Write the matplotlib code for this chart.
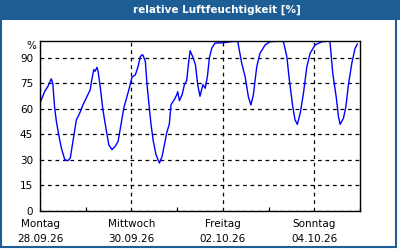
import matplotlib
matplotlib.use("Agg")
import matplotlib.pyplot as plt
from matplotlib.patches import Rectangle

# hours since Monday 28.09.26 00:00 and relative humidity in %
hours = [0.4, 2.5, 4.2, 5.9, 6.7, 7.7, 8.6, 9.8, 11.2, 13.0, 14.7, 15.9, 17.3, 19.1,
         20.9, 22.6, 24.3, 26.4, 26.9, 28.2, 28.9, 29.9, 30.5, 31.7, 32.9, 34.3, 36.1,
         37.8, 39.5, 41.0, 42.2, 44.0, 45.7, 46.9, 48.3, 50.1, 51.5, 52.7, 53.9, 55.3,
         56.2, 57.4, 58.3, 59.5, 60.9, 62.7, 64.1, 65.3, 66.5, 67.9, 68.8, 70.5, 71.8,
         72.3, 73.2, 74.6, 75.8, 77.0, 78.1, 78.8, 80.1, 81.6, 82.8, 84.0, 85.5, 86.1,
         86.7, 87.9, 88.9, 90.2, 91.9, 96.3, 101.5, 103.8, 105.9, 107.7, 109.4, 110.7,
         112.0, 113.8, 115.5, 118.2, 120.8, 126.0, 127.8, 129.6, 130.9, 132.7, 133.9,
         135.1, 136.6, 138.3, 140.1, 141.8, 144.4, 148.0, 151.9, 152.3, 153.7, 155.5,
         156.7, 157.6, 159.3, 160.6, 161.9, 163.7, 165.4, 166.6]
humidity = [64.4, 70.2, 73.2, 77.6, 75, 60.4, 52.6, 44.7, 36.9, 30, 29.4, 31, 40.8, 53.5,
            57.5, 62.4, 66.3, 71.2, 75.1, 83, 82, 84.3, 82, 72.2, 60.4, 50.6, 38.8,
            35.9, 37.9, 40.8, 48.6, 60.4, 67.3, 72.2, 78.5, 80, 84.9, 90.8, 91.8, 87.9,
            74.1, 60.4, 50.6, 40.8, 33, 28, 32, 38.8, 45.7, 51, 62.4, 65.3, 68.2,
            70, 64.7, 68.2, 74.1, 76.5, 87.9, 94.1, 90.8, 85.9, 74.1, 67.3, 74.1, 73.2,
            72, 79, 89.8, 95.7, 98.6, 98.8, 99.6, 99.6, 86.7, 78.8, 67, 62.2,
            68, 84.7, 92.6, 97.5, 99.4, 99.8, 99.4, 90.6, 76.9, 61.2, 53.4,
            50.8, 57.3, 69, 84.7, 92.6, 97.5, 99.4, 99.8, 98.5, 80.8, 67,
            55.3, 50.8, 54.4, 61.2, 73.9, 86.7, 95.5, 98]

y_ticks = [0, 15, 30, 45, 60, 75, 90]
day_ticks = [0, 48, 96, 144]
day_labels = ["Montag\n28.09.26", "Mittwoch\n30.09.26", "Freitag\n02.10.26", "Sonntag\n04.10.26"]
odd_days = [24, 72, 120, 168]

plt.rcParams['font.family'] = ['DejaVu Sans']
blue_bar = '#1c5e95'

fig = plt.figure(figsize=(4, 2.5), dpi=100)
fig.patch.set_facecolor('white')

# title bar and frame
fig.patches.append(Rectangle((0, 250 - 20), 400, 20, transform=None,
                             facecolor=blue_bar, edgecolor='none', zorder=0))
fig.patches.append(Rectangle((1, 3), 395, 246, transform=None, fill=False,
                             edgecolor=blue_bar, linewidth=1.5, zorder=0))
fig.text(217 / 400, 1 - 10 / 250, "relative Luftfeuchtigkeit [%]", color='white',
         fontsize=7.5, fontweight='bold', ha='center', va='center')

ax = fig.add_axes([40 / 400, 39.3 / 250, 320 / 400, 170 / 250])
ax.plot(hours, humidity, color='#0000ff', linewidth=1.0)

ax.set_xlim(0, 168)
ax.set_ylim(0, 100)
ax.set_yticks(y_ticks)
ax.set_xticks(day_ticks)
ax.set_xticklabels(day_labels, linespacing=1.6)
ax.set_xticks(odd_days, minor=True)

ax.grid(True, which='major', color='black', linestyle=(0, (3, 3)), linewidth=0.9)
ax.tick_params(axis='both', which='both', direction='in', length=3, width=0.9,
               labelsize=7.5, colors='black')
ax.tick_params(axis='x', which='major', length=0, pad=6)
ax.tick_params(axis='y', length=0, pad=5)
for sp in ax.spines.values():
    sp.set_linewidth(1.0)

ax.text(-0.012, 1.0, "%", transform=ax.transAxes, ha='right', va='top', fontsize=7.5)

fig.savefig("out.png", dpi=100)
